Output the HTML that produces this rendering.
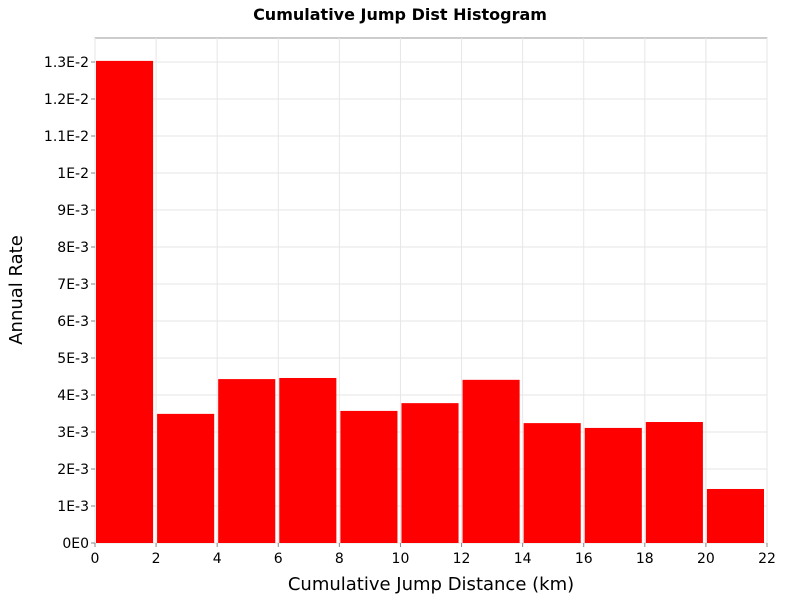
<!DOCTYPE html>
<html><head><meta charset="utf-8"><style>
body{margin:0;background:#fff;}
svg text{font-family:"DejaVu Sans","Liberation Sans",sans-serif;}
</style></head><body>
<svg id="chart" width="800" height="600">
<text x="400" y="20" text-anchor="middle" font-size="16" font-weight="bold">Cumulative Jump Dist Histogram</text>
<rect x="95" y="38" width="672" height="505" fill="#fff" stroke="#999" stroke-width="1"/>
<g id="grid"></g><g id="bars"></g><g id="axes"></g>
<text x="431" y="590" text-anchor="middle" font-size="18">Cumulative Jump Distance (km)</text>
<text transform="translate(22,290) rotate(-90)" text-anchor="middle" font-size="18">Annual Rate</text>
</svg>
<script>
const binStarts=[0,2,4,6,8,10,12,14,16,18,20];
const rates=[0.01303,0.00349,0.00443,0.00446,0.00357,0.00378,0.00441,0.00324,0.00311,0.00327,0.00146];
const xTicks=[0,2,4,6,8,10,12,14,16,18,20,22];
const yTicks=[0,0.001,0.002,0.003,0.004,0.005,0.006,0.007,0.008,0.009,0.01,0.011,0.012,0.013];
const yLabels=["0E0","1E-3","2E-3","3E-3","4E-3","5E-3","6E-3","7E-3","8E-3","9E-3","1E-2","1.1E-2","1.2E-2","1.3E-2"];
const NS="http://www.w3.org/2000/svg";
const L=95,R=767,T=38,B=543;
const xs=v=>L+v/22*(R-L);
const ys=v=>B-v/0.013*481;
const grid=document.getElementById('grid'),bars=document.getElementById('bars'),axes=document.getElementById('axes');
function mk(tag,attrs,parent){const e=document.createElementNS(NS,tag);for(const k in attrs)e.setAttribute(k,attrs[k]);parent.appendChild(e);return e;}
xTicks.forEach(t=>{
  const g=mk('line',{x1:xs(t),x2:xs(t),y1:T,y2:B,stroke:'#e6e6e6'},grid);
  
  
  const tk=mk('line',{x1:xs(t),x2:xs(t),y1:B,y2:B+4,stroke:'#888'},axes);
  
  
  const tx=mk('text',{x:xs(t),y:B+20,'text-anchor':'middle','font-size':'14'},axes);
  tx.textContent=t;
  
  
});
yTicks.forEach((t,i)=>{
  const g=mk('line',{x1:L,x2:R,y1:ys(t),y2:ys(t),stroke:'#e6e6e6'},grid);
  
  
  const tk=mk('line',{x1:L-4,x2:L,y1:ys(t),y2:ys(t),stroke:'#888'},axes);
  
  
  const tx=mk('text',{x:L-6,y:ys(t)+5,'text-anchor':'end','font-size':'14'},axes);
  tx.textContent=yLabels[i];
  
  
});
binStarts.forEach((s,i)=>{
  const x0=xs(s)+1,x1=xs(s+2)-3;
  const r=mk('rect',{x:x0,y:ys(rates[i]),width:x1-x0,height:B-ys(rates[i]),fill:'#ff0000'},bars);
  
  
});
</script>
</body></html>
